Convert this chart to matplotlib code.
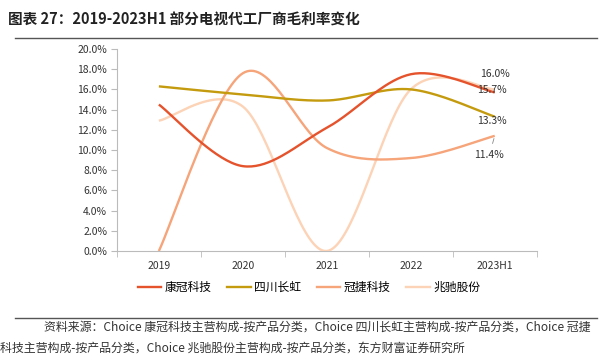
import numpy as np
import matplotlib
matplotlib.use("Agg")
import matplotlib.pyplot as plt
from matplotlib.lines import Line2D

plt.rcParams['font.family'] = ['Noto Sans CJK SC', 'DejaVu Sans']

categories = ["2019", "2020", "2021", "2022", "2023H1"]
series_names = ["康冠科技", "四川长虹", "冠捷科技", "兆驰股份"]
kangguan = [14.5, 8.4, 12.2, 17.5, 15.7]
changhong = [16.3, 15.5, 14.9, 16.0, 13.3]
guanjie = [0.0, 17.6, 10.2, 9.2, 11.4]
zhaochi = [12.9, 14.3, 0.0, 16.0, 16.0]
colors = ["#E5532D", "#C49B0E", "#F6A47A", "#FCD3B6"]
yticks = [0, 2, 4, 6, 8, 10, 12, 14, 16, 18, 20]

def smooth(xs, ys, n=40, t=1/6):
    xs = np.asarray(xs, float); ys = np.asarray(ys, float)
    px = np.concatenate([[xs[0]], xs, [xs[-1]]])
    py = np.concatenate([[ys[0]], ys, [ys[-1]]])
    outx, outy = [], []
    for i in range(1, len(px) - 2):
        p0 = np.array([px[i - 1], py[i - 1]]); p1 = np.array([px[i], py[i]])
        p2 = np.array([px[i + 1], py[i + 1]]); p3 = np.array([px[i + 2], py[i + 2]])
        c1 = p1 + (p2 - p0) * t
        c2 = p2 - (p3 - p1) * t
        s = np.linspace(0, 1, n)[:, None]
        b = (1 - s) ** 3 * p1 + 3 * (1 - s) ** 2 * s * c1 + 3 * (1 - s) * s ** 2 * c2 + s ** 3 * p2
        outx.extend(b[:, 0]); outy.extend(b[:, 1])
    return np.array(outx), np.array(outy)

fig = plt.figure(figsize=(6.12, 3.55), dpi=100)
ax = fig.add_axes([0.191, 0.293, 0.686, 0.569])

x = np.arange(len(categories))
all_series = [kangguan, changhong, guanjie, zhaochi]
order = [3, 2, 1, 0]
for i in order:
    sx, sy = smooth(x, all_series[i])
    ax.plot(sx, sy, color=colors[i], lw=1.7, solid_capstyle='butt', zorder=3 + (3 - i))

ax.set_xlim(-0.5, len(categories) - 0.5)
ax.set_ylim(0, 20)
ax.set_yticks(yticks)
ax.set_yticklabels([f"{v:.1f}%" for v in yticks], fontsize=7.5, color="#333333")
ax.set_xticks(x)
ax.set_xticklabels(categories, fontsize=7.5, color="#333333")
ax.set_xticks(np.arange(-0.5, len(categories)), minor=True)
ax.tick_params(axis='x', which='major', length=0, pad=7)
ax.tick_params(axis='x', which='minor', length=4, color="#BBBBBB", direction='out')
ax.tick_params(axis='y', length=4, color="#BBBBBB", direction='out', pad=3)
for sp in ['top', 'right']:
    ax.spines[sp].set_visible(False)
for sp in ['left', 'bottom']:
    ax.spines[sp].set_color("#BBBBBB")
    ax.spines[sp].set_linewidth(0.8)

last = len(categories) - 1
ax.annotate(f"{zhaochi[-1]:.1f}%", (last, zhaochi[-1]), xytext=(0, 11), textcoords='offset points',
            ha='center', va='center', fontsize=7.5, color="#333333", zorder=10)
ax.annotate(f"{kangguan[-1]:.1f}%", (last, kangguan[-1]), xytext=(-2, 2), textcoords='offset points',
            ha='center', va='center', fontsize=7.5, color="#333333", zorder=10)
ax.annotate(f"{changhong[-1]:.1f}%", (last, changhong[-1]), xytext=(-2, -3), textcoords='offset points',
            ha='center', va='center', fontsize=7.5, color="#333333", zorder=10)
ax.annotate(f"{guanjie[-1]:.1f}%", (last, guanjie[-1]), xytext=(-4, -14), textcoords='offset points',
            ha='center', va='center', fontsize=7.5, color="#333333", zorder=10,
            arrowprops=dict(arrowstyle='-', color="#888888", lw=0.6, shrinkA=3, shrinkB=2))

handles = [Line2D([0], [0], color=c, lw=1.7) for c in colors]
fig.legend(handles, series_names, loc='center', bbox_to_anchor=(0.505, 0.19), ncol=4,
           frameon=False, fontsize=8.5, handlelength=2.0, columnspacing=1.3, handletextpad=0.3)

fig.text(0.013, 0.945, "图表 27：2019-2023H1 部分电视代工厂商毛利率变化", fontsize=10.5,
         fontweight='bold', ha='left', va='center', color="#222222")
fig.add_artist(Line2D([0.024, 0.976], [0.893, 0.893], color="#555555", lw=1.0))
fig.add_artist(Line2D([0.024, 0.976], [0.104, 0.104], color="#555555", lw=1.0))
fig.text(0.072, 0.078, "资料来源：Choice 康冠科技主营构成-按产品分类，Choice 四川长虹主营构成-按产品分类，Choice 冠捷",
         fontsize=8.6, ha='left', va='center', color="#333333")
fig.text(0.0, 0.018, "科技主营构成-按产品分类，Choice 兆驰股份主营构成-按产品分类，东方财富证券研究所",
         fontsize=8.6, ha='left', va='center', color="#333333")

fig.savefig("out.png", dpi=100)
